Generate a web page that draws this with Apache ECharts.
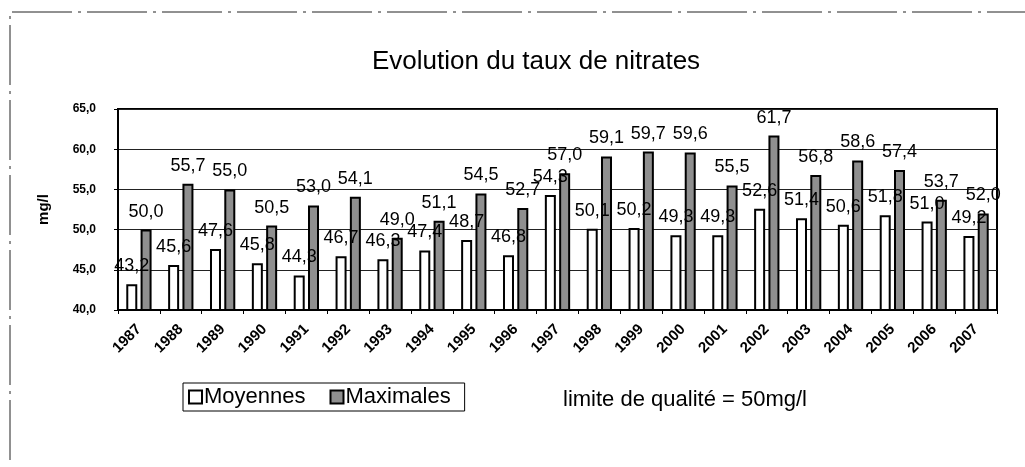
<!DOCTYPE html>
<html>
<head>
<meta charset="utf-8">
<script src="https://cdn.jsdelivr.net/npm/echarts@6/dist/echarts.min.js"></script>
<style>
html,body{margin:0;padding:0;background:#fff;}
#c{width:1025px;height:467px;}
</style>
</head>
<body>
<div id="c"></div>
<script>
const years = ['1987','1988','1989','1990','1991','1992','1993','1994','1995','1996','1997','1998','1999','2000','2001','2002','2003','2004','2005','2006','2007'];
const moyennes = [43.2,45.6,47.6,45.8,44.3,46.7,46.3,47.4,48.7,46.8,54.3,50.1,50.2,49.3,49.3,52.6,51.4,50.6,51.8,51.0,49.2];
const maximales = [50.0,55.7,55.0,50.5,53.0,54.1,49.0,51.1,54.5,52.7,57.0,59.1,59.7,59.6,55.5,61.7,56.8,58.6,57.4,53.7,52.0];
const yTicks = [40,45,50,55,60,65];

const fmt = v => Number(v).toFixed(1).replace('.', ',');
const FONT = '"Liberation Sans", Arial, sans-serif';

const chart = echarts.init(document.getElementById('c'), null, {renderer:'canvas'});
chart.setOption({
  animation:false,
  backgroundColor:'#fff',
  title:{
    text:'Evolution du taux de nitrates',
    left:367, top:44,
    textStyle:{fontFamily:FONT,fontSize:26,fontWeight:'normal',color:'#000'}
  },
  legend:{
    data:['Moyennes','Maximales'],
    left:183, top:383,
    orient:'horizontal',
    itemWidth:13, itemHeight:13, itemGap:24,
    borderColor:'#000', borderWidth:1, padding:[3,14,3,5],
    icon:'rect',
    textStyle:{fontFamily:FONT,fontSize:22,color:'#000',padding:[0,0,0,-3]}
  },
  grid:{left:118,right:28,top:109,bottom:157,show:true,borderColor:'#000',borderWidth:2},
  xAxis:{
    type:'category',
    data:years,
    axisLine:{lineStyle:{color:'#000',width:2}},
    axisTick:{show:true,length:4,lineStyle:{color:'#000'}},
    axisLabel:{rotate:45,fontFamily:FONT,fontSize:15,fontWeight:'bold',color:'#000',margin:17}
  },
  yAxis:{
    type:'value',
    min:yTicks[0], max:yTicks[yTicks.length-1], interval:5,
    name:'mg/l', nameLocation:'middle', nameGap:67,
    nameTextStyle:{fontFamily:FONT,fontSize:15,fontWeight:'bold',color:'#000'},
    axisLine:{show:true,lineStyle:{color:'#000',width:2}},
    axisTick:{show:true,length:4,lineStyle:{color:'#000'}},
    axisLabel:{formatter:v=>fmt(v),fontFamily:FONT,fontSize:12,fontWeight:'bold',color:'#000',margin:22},
    splitLine:{show:true,lineStyle:{color:'#222',width:1}}
  },
  series:[
    {
      name:'Moyennes', type:'bar', data:moyennes,
      barWidth:11, barGap:'30%',
      itemStyle:{color:'#fff',borderColor:'#000',borderWidth:2},
      label:{show:true,position:'top',distance:9,formatter:p=>fmt(p.value),
        fontFamily:FONT,fontSize:18,color:'#000'}
    },
    {
      name:'Maximales', type:'bar', data:maximales,
      barWidth:11,
      itemStyle:{color:'#8f8f8f',borderColor:'#000',borderWidth:2},
      label:{show:true,position:'top',distance:9,formatter:p=>fmt(p.value),
        fontFamily:FONT,fontSize:18,color:'#000'}
    }
  ],
  graphic:[
    {type:'text',left:563,top:389,style:{text:'limite de qualité = 50mg/l',font:'22px '+FONT,fill:'#000'}},
    {type:'polyline',shape:{points:[[10,460],[10,12],[1025,12]]},
     style:{stroke:'#222',lineWidth:1,fill:null,lineDash:[60,6,3,6]}}
  ]
});
</script>
</body>
</html>
